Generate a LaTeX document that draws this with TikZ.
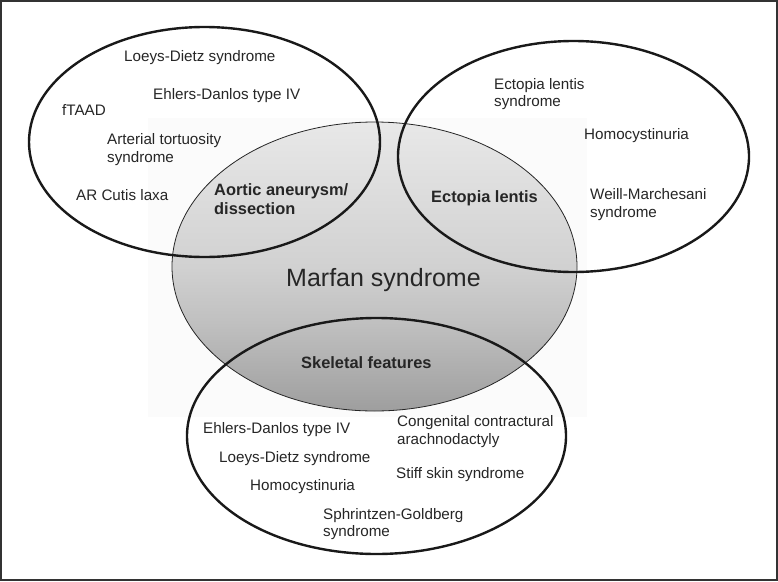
\documentclass[tikz,border=0pt]{standalone}
\usepackage{fontspec}
\setmainfont{Liberation Sans}
\pgfdeclareverticalshading{marfshade}{100bp}{color(0bp)=(black!38); color(25bp)=(black!38); color(40bp)=(black!25); color(50bp)=(black!18); color(75bp)=(black!9); color(100bp)=(black!9)}
\begin{document}
\begin{tikzpicture}[x=1pt,y=-1pt,
  lbl/.style={anchor=west,align=left,inner sep=0pt,text=black!85,font=\fontsize{15.2}{17.6}\selectfont},
  blbl/.style={anchor=west,align=left,inner sep=0pt,text=black!85,font=\fontsize{16.4}{18.5}\selectfont\bfseries},
  ring/.style={draw=black!90,line width=2.4pt},
]
\useasboundingbox (0,0) rectangle (778,581);
\fill[white] (0,0) rectangle (778,581);
\draw[black!80,line width=1.6pt] (1,1) rectangle (777,580);
% faint background panel
\fill[black!1.5] (148,118) rectangle (587,417);
% central Marfan ellipse
\path[shading=marfshade,draw=black!85,line width=0.8pt]
  (374.5,266.5) ellipse [x radius=202.5,y radius=144.5];
\node (marfan) at (383.5,280) {\fontsize{25}{28}\selectfont\color{black!85}Marfan syndrome};
% outlines
\draw[ring] (204.5,142) ellipse [x radius=175.5,y radius=115];
\draw[ring] (573.5,156.5) ellipse [x radius=175.5,y radius=115.5];
\draw[ring] (376.5,436) ellipse [x radius=189.5,y radius=118];
% left group
\node[lbl] (ld1) at (124,58) {Loeys-Dietz syndrome};
\node[lbl] (ed1) at (153,96) {Ehlers-Danlos type IV};
\node[lbl] (ft) at (62,110) {fTAAD};
\node[lbl] (at) at (107,149.5) {Arterial tortuosity\\syndrome};
\node[lbl] (ar) at (76,195) {AR Cutis laxa};
\node[blbl] (ao) at (214,199) {Aortic aneurysm/\\dissection};
% right group
\node[lbl] (els) at (494,94) {Ectopia lentis\\syndrome};
\node[lbl] (hc1) at (584,136) {Homocystinuria};
\node[lbl] (wm) at (590,204.5) {Weill-Marchesani\\syndrome};
\node[blbl] (el) at (431,198) {Ectopia lentis};
% bottom group
\node[blbl] (sk) at (301,363) {Skeletal features};
\node[lbl] (ed2) at (203,430) {Ehlers-Danlos type IV};
\node[lbl] (ld2) at (219,459) {Loeys-Dietz syndrome};
\node[lbl] (hc2) at (250,487) {Homocystinuria};
\node[lbl] (sg) at (323,524) {Sphrintzen-Goldberg\\syndrome};
\node[lbl] (cca) at (397,431.5) {Congenital contractural\\arachnodactyly};
\node[lbl] (ss) at (396,475) {Stiff skin syndrome};
\end{tikzpicture}
\end{document}
